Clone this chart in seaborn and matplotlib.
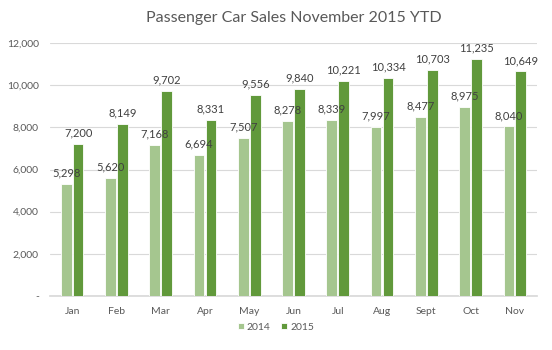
import pandas as pd
import matplotlib
matplotlib.use("Agg")
import matplotlib.pyplot as plt
import seaborn as sns

# data
months = ['Jan', 'Feb', 'Mar', 'Apr', 'May', 'Jun', 'Jul', 'Aug', 'Sept', 'Oct', 'Nov']
sales_2014 = [5298, 5620, 7168, 6694, 7507, 8278, 8339, 7997, 8477, 8975, 8040]
sales_2015 = [7200, 8149, 9702, 8331, 9556, 9840, 10221, 10334, 10703, 11235, 10649]

df = pd.DataFrame({
    'month': months * 2,
    'year': ['2014'] * len(months) + ['2015'] * len(months),
    'sales': sales_2014 + sales_2015,
})

sns.set_theme(style='white')
plt.rcParams['font.family'] = ['Lato', 'DejaVu Sans']

fig = plt.figure(figsize=(5.52, 3.5), dpi=100)
ax = fig.add_axes([50 / 552, 54 / 350, 487 / 552, 253 / 350])

sns.barplot(data=df, x='month', y='sales', hue='year', order=months,
            palette={'2014': '#A5C68F', '2015': '#61993B'}, saturation=1,
            width=0.54, gap=0.1, edgecolor='white', linewidth=0.6,
            ax=ax, zorder=3)

# value labels
for cont in ax.containers:
    ax.bar_label(cont, labels=[f'{v:,.0f}' for v in cont.datavalues],
                 padding=4, fontsize=8, color='#404040')

ax.set_ylim(0, 12000)
ax.set_yticks(range(0, 12001, 2000))
ax.set_yticklabels(['-'] + [f'{v:,}' for v in range(2000, 12001, 2000)])
ax.yaxis.grid(True, color='#D9D9D9', linewidth=0.8, zorder=0)
ax.set_axisbelow(True)
ax.tick_params(axis='both', labelsize=7.5, colors='#595959', length=0, pad=8)
ax.set_xlabel('')
ax.set_ylabel('')
for s in ['top', 'right', 'left']:
    ax.spines[s].set_visible(False)
ax.spines['bottom'].set_color('#D9D9D9')

ax.get_legend().remove()
ax.set_title('Passenger Car Sales November 2015 YTD', fontsize=11.5,
             color='#595959', pad=15)

handles, labels = ax.get_legend_handles_labels()
fig.legend(handles, labels, loc='center', bbox_to_anchor=(0.5, 23 / 350), ncol=2,
           frameon=False, fontsize=7.5, handlelength=0.6, handleheight=0.6,
           handletextpad=0.3, columnspacing=1.0, labelcolor='#595959')

fig.savefig('out.png', dpi=100)
